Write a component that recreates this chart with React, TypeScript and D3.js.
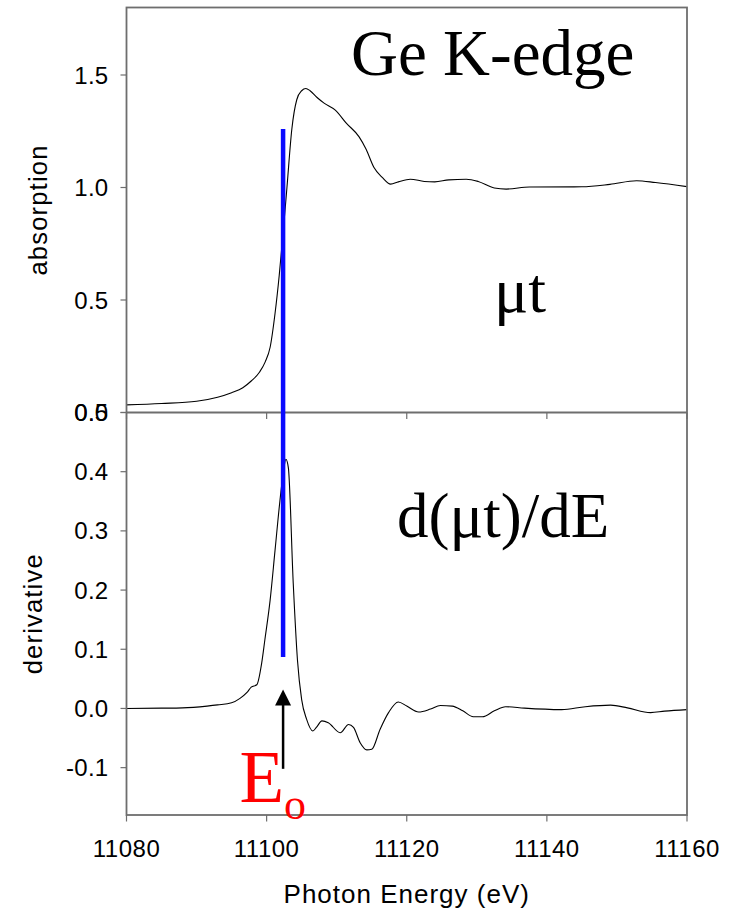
import React from "react";
import * as d3 from "d3";

// ---- data ----
const energyAbs = [
  11080, 11085, 11090, 11093, 11095, 11096.6, 11097.8, 11099, 11099.8, 11100.5,
  11101.2, 11101.8, 11102.3, 11102.9, 11103.6, 11104.3, 11105, 11105.6, 11106.2,
  11107.2, 11108.2, 11109.8, 11111.4, 11113.2, 11114.2, 11115.3, 11116.5, 11117.7,
  11118.8, 11120.5, 11122.5, 11124, 11126, 11128.5, 11130.2, 11132.5, 11134.2,
  11137.5, 11145, 11149, 11152.8, 11155.5, 11160,
];
const absorption = [
  0.034, 0.04, 0.05, 0.068, 0.088, 0.11, 0.14, 0.18, 0.225, 0.29,
  0.44, 0.61, 0.78, 1.0, 1.26, 1.39, 1.43, 1.44, 1.43,
  1.4, 1.375, 1.344, 1.285, 1.225, 1.17, 1.09, 1.045, 1.015,
  1.025, 1.037, 1.027, 1.025, 1.034, 1.037, 1.027, 0.998, 0.993,
  1.002, 1.003, 1.014, 1.03, 1.022, 1.004,
];

const energyDer = [
  11080, 11085, 11088, 11091.5, 11093, 11095, 11096.2, 11097.2, 11097.8, 11098.6,
  11099.3, 11099.75, 11100.5, 11101.2, 11101.9, 11102.4, 11102.75, 11103.1, 11103.8,
  11104.4, 11105, 11105.7, 11106.6, 11107.1, 11107.9, 11108.8, 11110.5, 11111.7,
  11112.4, 11113.35, 11114.3, 11115, 11116.2, 11117.4, 11118.8, 11120, 11121.7,
  11123.4, 11124.8, 11126.5, 11128, 11129.5, 11130.8, 11132.5, 11134.1, 11136.8,
  11142.1, 11145.5, 11149.1, 11151.5, 11154.8, 11156.8, 11160,
];
const derivative = [
  0.0, 0.0005, 0.001, 0.004, 0.006, 0.0095, 0.017, 0.027, 0.036, 0.04,
  0.077, 0.116, 0.183, 0.267, 0.351, 0.4, 0.421, 0.407, 0.211,
  0.082, 0.015, -0.018, -0.038, -0.032, -0.021, -0.024, -0.041, -0.027,
  -0.032, -0.058, -0.07, -0.069, -0.035, -0.007, 0.011, 0.004, -0.006,
  -0.001, 0.005, 0.004, -0.004, -0.014, -0.014, -0.004, 0.003, 0.0005,
  -0.002, 0.003, 0.0056, 0.001, -0.007, -0.0045, -0.002,
];

const xTicks = [11080, 11100, 11120, 11140, 11160];
const topTicks = [0.0, 0.5, 1.0, 1.5];
const botTicks = [-0.1, 0.0, 0.1, 0.2, 0.3, 0.4, 0.5];

const E0 = 11102.35;
const blueTop = 1.26;
const blueBottom = 0.087;
const arrowTip = 0.032;
const arrowTail = -0.102;

const xDomain = [11080, 11160];
const topDomain = [0, 1.8];
const botDomain = [-0.18, 0.5];

export default function App() {
  const W = 734;
  const H = 910;
  const left = 126.5;
  const right = 687;
  const top = 7.5;
  const mid = 412.5;
  const bottom = 815;

  const x = d3.scaleLinear().domain(xDomain).range([left, right]);
  const yTop = d3.scaleLinear().domain(topDomain).range([mid, top]);
  const yBot = d3.scaleLinear().domain(botDomain).range([bottom, mid]);

  const absLine = d3
    .line<number>()
    .x((_, i) => x(energyAbs[i]))
    .y((d) => yTop(d))
    .curve(d3.curveMonotoneX);
  const derLine = d3
    .line<number>()
    .x((_, i) => x(energyDer[i]))
    .y((d) => yBot(d))
    .curve(d3.curveMonotoneX);

  const frame = "#6e6e6e";
  const sans = "'Liberation Sans', Arial, sans-serif";
  const serif = "'Liberation Serif', 'Times New Roman', serif";

  const xe = x(E0);
  const tipY = yBot(arrowTip);
  const headLen = 16;
  const headHalf = 8;

  return (
    <svg
      width={W}
      height={H}
      style={{ position: "absolute", left: 0, top: 0, background: "#fff" }}
    >
      <rect x={0} y={0} width={W} height={H} fill="#fff" />
      {/* curves */}
      <path d={absLine(absorption) || ""} fill="none" stroke="#000" strokeWidth={1.1} />
      <path d={derLine(derivative) || ""} fill="none" stroke="#000" strokeWidth={1.1} />

      {/* frame */}
      <rect
        x={left}
        y={top}
        width={right - left}
        height={bottom - top}
        fill="none"
        stroke={frame}
        strokeWidth={1.8}
      />
      <line x1={left} x2={right} y1={mid} y2={mid} stroke={frame} strokeWidth={1.8} />

      {/* x ticks at divider and bottom */}
      {xTicks.map((t) => (
        <g key={"xt" + t}>
          <line x1={x(t)} x2={x(t)} y1={mid} y2={mid + 6.5} stroke={frame} strokeWidth={1.2} />
          <line x1={x(t)} x2={x(t)} y1={bottom} y2={bottom + 6.5} stroke={frame} strokeWidth={1.2} />
          <text
            x={x(t)}
            y={857}
            textAnchor="middle"
            fontFamily={sans}
            fontSize={24}
            letterSpacing={0.5}
            fill="#000"
          >
            {t}
          </text>
        </g>
      ))}

      {/* y ticks top */}
      {topTicks.map((t) => (
        <g key={"yt" + t}>
          <line x1={left - 6} x2={left} y1={yTop(t)} y2={yTop(t)} stroke={frame} strokeWidth={1.2} />
          <text
            x={108.5}
            y={yTop(t) + 8.6}
            textAnchor="end"
            fontFamily={sans}
            fontSize={24}
            letterSpacing={0.3}
            fill="#000"
          >
            {t.toFixed(1)}
          </text>
        </g>
      ))}
      {/* y ticks bottom */}
      {botTicks.map((t) => (
        <g key={"yb" + t}>
          <line x1={left - 6} x2={left} y1={yBot(t)} y2={yBot(t)} stroke={frame} strokeWidth={1.2} />
          <text
            x={108.5}
            y={yBot(t) + 8.6}
            textAnchor="end"
            fontFamily={sans}
            fontSize={24}
            letterSpacing={0.3}
            fill="#000"
          >
            {t.toFixed(1)}
          </text>
        </g>
      ))}

      {/* axis titles */}
      <text
        transform={`translate(46.5, ${yTop(0.9)}) rotate(-90)`}
        textAnchor="middle"
        fontFamily={sans}
        fontSize={25.5}
        letterSpacing={1.2}
        fill="#000"
      >
        absorption
      </text>
      <text
        transform={`translate(42, ${yBot(0.16)}) rotate(-90)`}
        textAnchor="middle"
        fontFamily={sans}
        fontSize={25.5}
        letterSpacing={1.2}
        fill="#000"
      >
        derivative
      </text>
      <text
        x={(left + right) / 2}
        y={903}
        textAnchor="middle"
        fontFamily={sans}
        fontSize={26}
        letterSpacing={1.0}
        fill="#000"
      >
        Photon Energy (eV)
      </text>

      {/* E0 marker */}
      <line
        x1={xe}
        x2={xe}
        y1={yTop(blueTop)}
        y2={yBot(blueBottom)}
        stroke="#0a0aff"
        strokeWidth={4.5}
      />
      <line
        x1={xe}
        x2={xe}
        y1={yBot(arrowTail)}
        y2={tipY + headLen - 1}
        stroke="#000"
        strokeWidth={2.5}
      />
      <polygon
        points={`${xe},${tipY} ${xe - headHalf},${tipY + headLen} ${xe + headHalf},${tipY + headLen}`}
        fill="#000"
      />

      {/* annotations */}
      <text x={351} y={75} fontFamily={serif} fontSize={65} fill="#000">
        Ge K-edge
      </text>
      <text x={494} y={312} fontFamily={serif} fontSize={64} fill="#000">
        μt
      </text>
      <text x={397} y={537} fontFamily={serif} fontSize={63} fill="#000">
        d(μt)/dE
      </text>
      <text x={239.5} y={802} fontFamily={serif} fontSize={73} fill="#ff0000">
        E
      </text>
      <text x={284} y={819} fontFamily={serif} fontSize={44} fill="#ff0000">
        o
      </text>
    </svg>
  );
}
